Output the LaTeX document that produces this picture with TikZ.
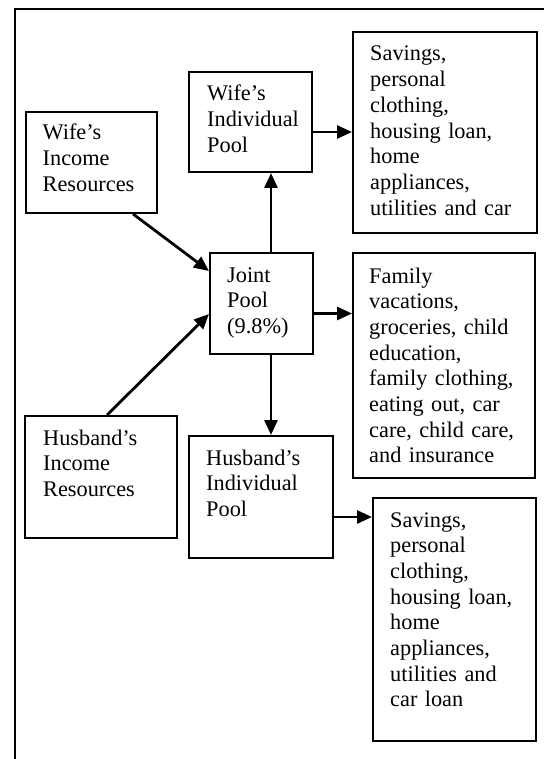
\documentclass[tikz,border=0pt]{standalone}
\usepackage{fontspec}
\setmainfont{Liberation Serif}
\usetikzlibrary{arrows.meta}
\begin{document}
\begin{tikzpicture}[x=1pt,y=-1pt,
  bx/.style={draw, line width=2pt, anchor=north west, inner sep=0pt},
  txt/.style={anchor=base west, inner sep=0pt, text width=175pt, align=left,
    font=\fontsize{22.3}{25.7}\selectfont},
  arr/.style={line width=2.8pt, -{Triangle[length=15pt,width=13pt]}}]
\useasboundingbox (0,0) rectangle (543,759);
% frame
\draw[line width=2pt] (15,770) -- (15,9) -- (560,9);
% boxes
\node[bx, minimum width=131, minimum height=101] (wir) at (25,111) {};
\node[bx, minimum width=123, minimum height=100] (wip) at (188,71) {};
\node[bx, minimum width=184, minimum height=201] (s1) at (352,31) {};
\node[bx, minimum width=103, minimum height=101] (jp) at (209,252) {};
\node[bx, minimum width=182, minimum height=225] (fb) at (352,252) {};
\node[bx, minimum width=152, minimum height=122] (hir) at (24,415) {};
\node[bx, minimum width=144, minimum height=122] (hip) at (188,435) {};
\node[bx, minimum width=163, minimum height=243] (s2) at (372,497) {};
% texts
\node[txt] (wirt) at (42.5,140) {Wife’s\\Income\\Resources};
\node[txt] (wipt) at (207,101) {Wife’s\\Individual\\Pool};
\node[txt] (s1t) at (370,61) {Savings,\\personal\\clothing,\\housing loan,\\home\\appliances,\\utilities and car};
\node[txt] (jpt) at (227,282) {Joint\\Pool\\(9.8\%)};
\node[txt] (fbt) at (369,283) {Family\\vacations,\\groceries, child\\education,\\family clothing,\\eating out, car\\care, child care,\\and insurance};
\node[txt] (hirt) at (43,445) {Husband’s\\Income\\Resources};
\node[txt] (hipt) at (206,465) {Husband’s\\Individual\\Pool};
\node[txt] (s2t) at (390,527) {Savings,\\personal\\clothing,\\housing loan,\\home\\appliances,\\utilities and\\car loan};
% connectors
\draw[arr] ([xshift=108pt]wir.south west) -- ([yshift=32.5pt]jp.west);
\draw[arr] ([xshift=83pt]hir.north west) -- ([yshift=-10.5pt]jp.west);
\draw[arr] ([xshift=9.5pt]jp.north) -- ([xshift=9.5pt]jp.north |- wip.south);
\draw[arr] ([xshift=9.5pt]jp.south) -- ([xshift=9.5pt]jp.south |- hip.north);
\draw[arr] ([yshift=-10pt]wip.east) -- ([yshift=-10pt]wip.east -| s1.west);
\draw[arr] ([yshift=-10pt]jp.east) -- ([yshift=-10pt]jp.east -| fb.west);
\draw[arr] ([yshift=-20pt]hip.east) -- ([yshift=-20pt]hip.east -| s2.west);
\end{tikzpicture}
\end{document}
